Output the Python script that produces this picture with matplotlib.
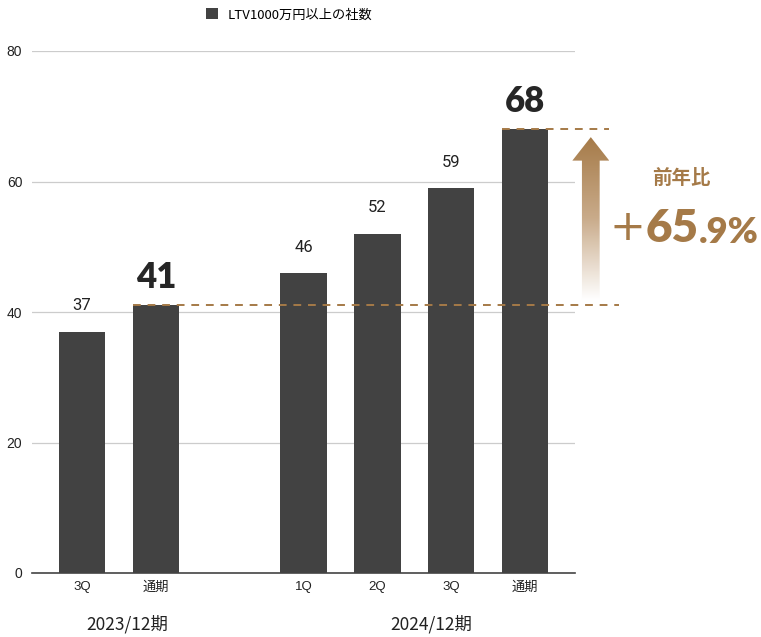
import matplotlib
matplotlib.use("Agg")
import matplotlib.pyplot as plt
import numpy as np
from matplotlib.patches import Polygon, Patch
from matplotlib.colors import LinearSegmentedColormap

plt.rcParams['font.family'] = ['Noto Sans CJK JP', 'DejaVu Sans']

categories = ["3Q", "通期", "1Q", "2Q", "3Q", "通期"]
positions = [0, 1, 3, 4, 5, 6]
values = [37, 41, 46, 52, 59, 68]
highlight = [False, True, False, False, False, True]
groups = ["2023/12期", "2024/12期"]
group_centers = [0.62, 4.73]
series_name = "LTV1000万円以上の社数"
yticks = [0, 20, 40, 60, 80]
growth_label = "前年比"
growth_parts = ["+", "65", ".9%"]

bar_color = "#424242"
brown = "#a57a48"
tick_fam = ['Liberation Sans', 'Noto Sans CJK JP']

fig = plt.figure(figsize=(7.61, 6.37), dpi=100)
ax = fig.add_axes([32/761, 64/637, 543/761, 522/637])

ax.bar(positions, values, width=0.63, color=bar_color, zorder=3)
ax.set_xlim(-0.676, 6.676)
ax.set_ylim(0, 80)
ax.set_yticks(yticks)
ax.set_yticklabels([str(t) for t in yticks], family=tick_fam, fontsize=10)
ax.set_xticks(positions)
ax.set_xticklabels(categories, fontsize=9.5, color="#222222", family=tick_fam)
ax.tick_params(axis='y', colors="#222222", length=0, pad=7)
ax.tick_params(axis='x', length=0, pad=6)
ax.grid(axis='y', color="#cccccc", linewidth=0.9, zorder=0)
for s in ["top", "right", "left"]:
    ax.spines[s].set_visible(False)
ax.spines["bottom"].set_color("#444444")
ax.spines["bottom"].set_linewidth(1.2)

for p, v, h in zip(positions, values, highlight):
    if h:
        ax.text(p, v + 1.8, str(v), ha='center', va='bottom', fontsize=25,
                fontweight='heavy', color="#262626", family=['Lato', 'DejaVu Sans'])
    else:
        ax.text(p, v + 2.8, str(v), ha='center', va='bottom', fontsize=12,
                color="#222222", family=['Roboto', 'DejaVu Sans'])

for g, c in zip(groups, group_centers):
    ax.text(c, -7.9, g, ha='center', va='center', fontsize=12.5, color="#222222")

# dashed reference lines
v_prev = values[1]
v_now = values[5]
ax.plot([positions[1] - 0.315, 7.27], [v_prev, v_prev], ls=(0, (4, 3.5)), color=brown,
        lw=1.4, clip_on=False, zorder=5)
ax.plot([positions[5] - 0.315, 7.14], [v_now, v_now], ls=(0, (4, 3.5)), color=brown,
        lw=1.4, clip_on=False, zorder=5)

# gradient arrow
xc = 6.89
sw = 0.12
hw = 0.25
tip = v_now - 1.2
hb = tip - 3.6
bot = v_prev + 0.8
poly = Polygon([[xc - sw, bot], [xc - sw, hb], [xc - hw, hb], [xc, tip],
                [xc + hw, hb], [xc + sw, hb], [xc + sw, bot]], closed=True,
               transform=ax.transData, facecolor='none', edgecolor='none')
ax.add_patch(poly)
poly.set_clip_on(False)
grad = np.linspace(0, 1, 256).reshape(-1, 1)
cmap = LinearSegmentedColormap.from_list("g", ["#ffffff", "#c9ab8a", brown])
im = ax.imshow(grad, extent=[xc - hw, xc + hw, bot, tip], origin='lower', cmap=cmap,
               aspect='auto', zorder=6)
im.set_clip_box(fig.bbox)
im.set_clip_path(poly)
ax.set_xlim(-0.676, 6.676)
ax.set_ylim(0, 80)

ax.text(8.12, 60.5, growth_label, ha='center', va='center', fontsize=14,
        fontweight='bold', color=brown, clip_on=False)
t0 = ax.text(7.14, 51.0, growth_parts[0], ha='left', va='baseline', fontsize=31,
             fontweight='normal', color=brown, family=['DejaVu Sans'], clip_on=False)
t1 = ax.annotate(growth_parts[1], xy=(1, 0), xycoords=t0, xytext=(0.5, 0),
                 textcoords='offset points', ha='left', va='bottom', fontsize=33,
                 fontweight='heavy', color=brown, family=['Lato', 'DejaVu Sans'])
t2 = ax.annotate(growth_parts[2], xy=(1, 0), xycoords=t1, xytext=(0, 0),
                 textcoords='offset points', ha='left', va='bottom', fontsize=26,
                 fontweight='heavy', color=brown, family=['Lato', 'DejaVu Sans'])

fig.legend(handles=[Patch(facecolor=bar_color, label=series_name)], loc='center',
           bbox_to_anchor=(289/761, 1 - 15/637), frameon=False, fontsize=9.5,
           handlelength=0.9, handleheight=0.9, handletextpad=0.7)

fig.savefig("out.png", dpi=100)
